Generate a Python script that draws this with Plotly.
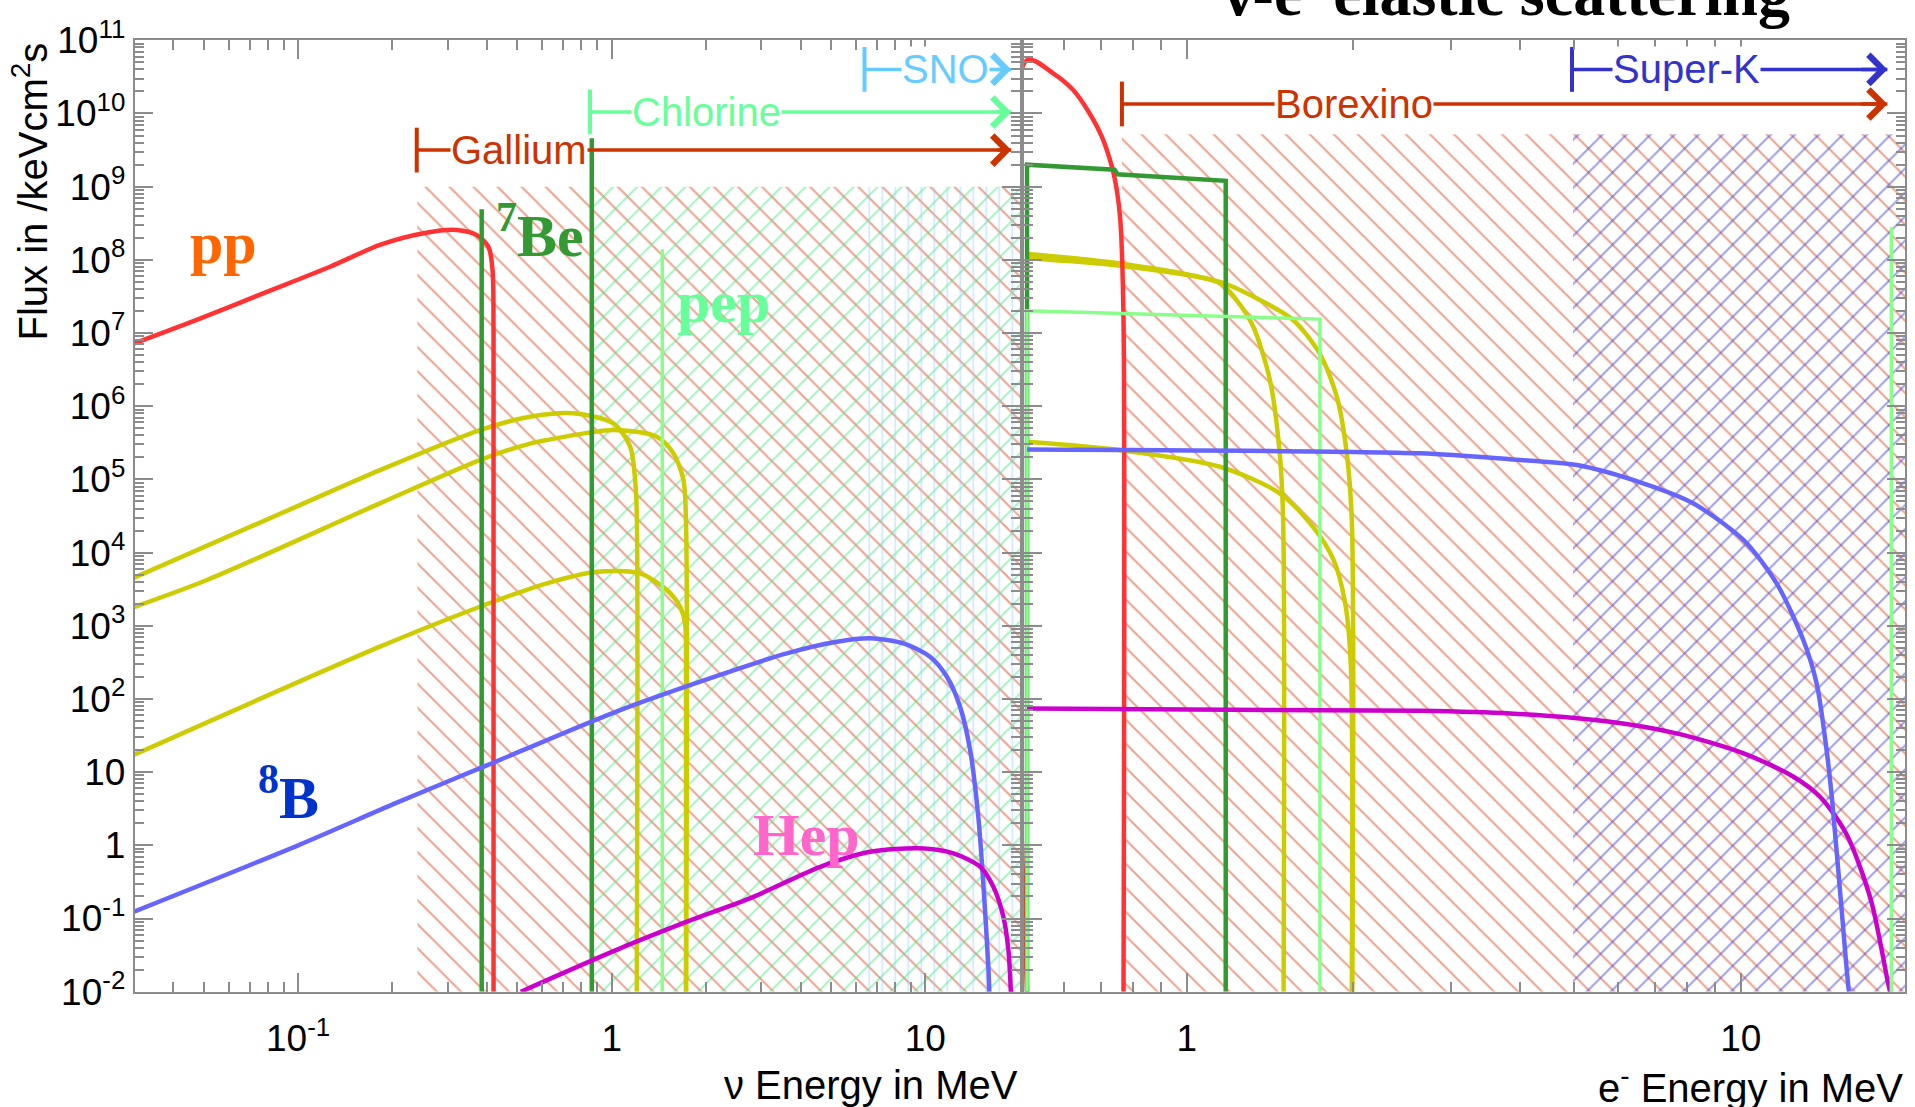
import numpy as np
import plotly.graph_objects as go

# ---------------- tick labels ----------------
y_tickvals = [1e-2, 1e-1, 1, 10, 1e2, 1e3, 1e4, 1e5, 1e6, 1e7, 1e8, 1e9, 1e10, 1e11]
y_ticktext = ["10<sup>-2</sup>", "10<sup>-1</sup>", "1", "10", "10<sup>2</sup>", "10<sup>3</sup>",
              "10<sup>4</sup>", "10<sup>5</sup>", "10<sup>6</sup>", "10<sup>7</sup>", "10<sup>8</sup>",
              "10<sup>9</sup>", "10<sup>10</sup>", "10<sup>11</sup>"]
x1_tickvals = [0.1, 1, 10]
x1_ticktext = ["10<sup>-1</sup>", "1", "10"]
x2_tickvals = [1, 10]
x2_ticktext = ["1", "10"]

# ---------------- left panel: neutrino spectra (E in MeV, flux in /keV cm^2 s) ----------------
pp_E = [0.030, 0.0475, 0.0774, 0.1265, 0.1824, 0.2512, 0.3206, 0.3715, 0.4046, 0.4169, 0.4200, 0.4200]
pp_F = [7.2e6, 1.51e7, 3.49e7, 8.05e7, 1.60e8, 2.31e8, 2.56e8, 2.18e8, 1.51e8, 7.3e7, 1.0e7, 1e-2]

be7_E = [0.385, 0.864]
be7_top = [4.9e8, 4.6e9]

pep_E = [1.45]
pep_top = [1.4e8]

n13_E = [0.030, 0.100, 0.1824, 0.380, 0.5495, 0.755, 1.012, 1.146, 1.1877, 1.2023, 1.2023]
n13_F = [4.54e3, 4.35e4, 1.34e5, 4.73e5, 7.19e5, 8.0e5, 5.83e5, 2.79e5, 9.8e4, 3.4e4, 1e-2]

o15_E = [0.030, 0.0512, 0.1824, 0.380, 0.5495, 0.621, 1.012, 1.393, 1.574, 1.694, 1.726, 1.726]
o15_F = [1.80e3, 4.22e3, 4.71e4, 1.84e5, 3.09e5, 3.45e5, 4.73e5, 3.83e5, 2.27e5, 9.8e4, 2.5e4, 1e-2]

f17_E = [0.030, 0.1824, 0.380, 0.621, 0.897, 1.230, 1.500, 1.652, 1.714, 1.726, 1.726]
f17_F = [17.3, 518, 1.82e3, 3.80e3, 5.47e3, 5.2e3, 3.08e3, 1.82e3, 1.07e3, 316, 1e-2]

b8_E = [0.030, 0.100, 0.2065, 0.3855, 1.064, 2.217, 3.614, 5.224, 6.668, 8.511, 10.35, 11.72,
        12.91, 13.90, 14.76, 15.31, 15.89, 16.0]
b8_F = [0.124, 1.0, 3.83, 11.6, 70.6, 214, 420, 605, 673, 575, 378, 201,
        78.3, 20.0, 2.45, 0.302, 0.0219, 0.01]

hep_E = [0.513, 1.064, 1.738, 2.831, 4.624, 6.668, 9.638, 12.30, 14.96, 16.48, 17.74, 18.41, 18.75]
hep_F = [0.01, 0.0391, 0.0904, 0.198, 0.509, 0.817, 0.910, 0.776, 0.509, 0.272, 0.106, 0.037, 0.0095]

# ---------------- right panel: nu-e elastic scattering recoil spectra ----------------
pp_es_E = [0.515, 0.515, 0.574, 0.624, 0.668, 0.703, 0.733, 0.748, 0.759, 0.769, 0.769]
pp_es_F = [1e-2, 5.37e10, 3.54e10, 2.09e10, 1.0e10, 4.79e9, 1.86e9, 8.9e8, 3.47e8, 1.51e7, 1e-2]

be7_es_E = [0.515, 0.515, 0.741, 0.750, 1.176, 1.176]
be7_es_F = [1e-2, 2.0e9, 1.70e9, 1.48e9, 1.20e9, 1e-2]

pep_es_E = [0.515, 0.515, 1.74, 1.74]
pep_es_F = [1e-2, 2.02e7, 1.55e7, 1e-2]

n13_es_E = [0.515, 0.759, 1.148, 1.230, 1.318, 1.413, 1.472, 1.493, 1.496]
n13_es_F = [1.2e8, 8.9e7, 4.79e7, 2.82e7, 1.23e7, 2.29e6, 2.27e5, 2.79e4, 1e-2]

o15_es_E = [0.515, 0.759, 1.148, 1.318, 1.556, 1.738, 1.866, 1.945, 1.986, 1.990]
o15_es_F = [1.05e8, 8.3e7, 5.0e7, 3.16e7, 1.51e7, 5.25e6, 1.35e6, 2.27e5, 2.79e4, 1e-2]

f17_es_E = [0.515, 0.759, 1.148, 1.472, 1.690, 1.841, 1.932, 1.977, 1.986]
f17_es_F = [3.27e5, 2.51e5, 1.49e5, 6.46e4, 2.24e4, 7.94e3, 2.04e3, 316, 1e-2]

b8_es_E = [0.515, 2.636, 3.834, 5.058, 6.668, 8.204, 10.12, 11.61, 12.97, 13.71, 14.29, 14.62,
           15.14, 15.67, 15.70]
b8_es_F = [2.57e5, 2.27e5, 1.88e5, 1.57e5, 8.83e4, 4.71e4, 1.48e4, 3.80e3, 638, 163, 20.0, 4.17,
           0.2, 0.0105, 0.01]

hep_es_E = [0.515, 2.636, 3.834, 5.808, 7.656, 10.12, 12.45, 13.90, 15.49, 17.18, 18.40, 18.60]
hep_es_F = [74.1, 69.0, 63.5, 48.9, 33.9, 18.1, 8.65, 4.61, 1.46, 0.179, 0.0145, 0.01]

edge_E = [18.7]
edge_top = [2.8e8]

# ---------------- detector thresholds ----------------
det_left_names = ["Gallium", "Chlorine", "SNO"]
det_left_thr = [0.239, 0.853, 6.4]
det_left_level = [3.16e9, 1.05e10, 4.0e10]
det_left_end = 18.8
hatch_left_start = [0.24, 0.87, 6.5]
hatch_left_top = 1e9

det_right_names = ["Borexino", "Super-K"]
det_right_thr = [0.764, 4.96]
det_right_level = [1.35e10, 4.0e10]
det_right_end = 18.4
hatch_right_start = [0.764, 4.98]
hatch_right_top = 5.2e9

# ---------------- styles ----------------
C_PP = "#ff3333"
C_BE = "#339933"
C_PEP = "#88ff88"
C_CNO = "#cccc00"
C_B8 = "#6666ff"
C_HEP = "#cc00cc"
C_GA = "#cc3300"
C_CL = "#66ff99"
C_SNO = "#66ccff"
C_SK = "#3333cc"
H_RED = "#d9461f"
H_GREEN = "#4fe684"
H_CYAN = "#8fd0ff"
H_BLUE = "#3f3fd8"
GRAY = "#8c8c8c"
LW = 4.5

fig = go.Figure()


def add_line(x, y, color, width, ax, smooth=True):
    xa, ya = ("x", "y") if ax == 1 else ("x2", "y2")
    line = dict(color=color, width=width)
    if smooth:
        line.update(shape="spline", smoothing=0.8)
    fig.add_trace(go.Scatter(x=x, y=y, mode="lines", line=line,
                             xaxis=xa, yaxis=ya, hoverinfo="skip", showlegend=False))


def add_hatch(x0, x1, top, shape, color, size, sol, ax):
    xa, ya = ("x", "y") if ax == 1 else ("x2", "y2")
    fig.add_trace(go.Scatter(x=[x0, x1, x1, x0, x0], y=[1e-2, 1e-2, top, top, 1e-2],
                             mode="none", fill="toself", fillcolor="rgba(0,0,0,0)",
                             fillpattern=dict(shape=shape, fgcolor=color, bgcolor="rgba(0,0,0,0)",
                                              size=size, solidity=sol),
                             xaxis=xa, yaxis=ya, hoverinfo="skip", showlegend=False))


# hatched sensitivity regions
add_hatch(hatch_left_start[0], 21, hatch_left_top, "\\", H_RED, 17, 0.12, 1)
add_hatch(hatch_left_start[1], 21, hatch_left_top, "/", H_GREEN, 17, 0.12, 1)
add_hatch(hatch_left_start[2], 21, hatch_left_top, "|", H_CYAN, 13, 0.12, 1)
add_hatch(hatch_right_start[0], 21, hatch_right_top, "\\", H_RED, 17, 0.12, 2)
add_hatch(hatch_right_start[1], 21, hatch_right_top, "/", H_BLUE, 17, 0.12, 2)

# left panel spectra
add_line(n13_E, n13_F, C_CNO, LW, 1)
add_line(o15_E, o15_F, C_CNO, LW, 1)
add_line(f17_E, f17_F, C_CNO, LW, 1)
add_line(pp_E, pp_F, C_PP, LW, 1)
for e, t in zip(be7_E, be7_top):
    add_line([e, e], [1e-2, t], C_BE, LW, 1, smooth=False)
for e, t in zip(pep_E, pep_top):
    add_line([e, e], [1e-2, t], C_PEP, 3.5, 1, smooth=False)
add_line(b8_E, b8_F, C_B8, LW, 1)
add_line(hep_E, hep_F, C_HEP, LW, 1)

# right panel spectra
add_line(n13_es_E, n13_es_F, C_CNO, LW, 2)
add_line(o15_es_E, o15_es_F, C_CNO, LW, 2)
add_line(f17_es_E, f17_es_F, C_CNO, LW, 2)
add_line(pp_es_E, pp_es_F, C_PP, LW, 2)
add_line(be7_es_E, be7_es_F, C_BE, LW, 2, smooth=False)
add_line(pep_es_E, pep_es_F, C_PEP, 3.5, 2, smooth=False)
add_line(hep_es_E, hep_es_F, C_HEP, LW, 2)
add_line(b8_es_E, b8_es_F, C_B8, LW, 2)
for e, t in zip(edge_E, edge_top):
    add_line([e, e], [1e-2, t], C_PEP, 3.5, 2, smooth=False)

annotations = []

# detector ranges
det_label_left_E = [0.3053, 1.153, 8.365]
det_label_right_E = [1.437, 5.858]
det_colors_left = [C_GA, C_CL, C_SNO]
det_colors_right = [C_GA, C_SK]


def add_detector(name, thr, lvl, end, lab_e, color, ax):
    xa, ya = ("x", "y") if ax == 1 else ("x2", "y2")
    fig.add_trace(go.Scatter(x=[thr, end], y=[lvl, lvl], mode="lines",
                             line=dict(color=color, width=3.5), xaxis=xa, yaxis=ya,
                             hoverinfo="skip", showlegend=False))
    fig.add_trace(go.Scatter(x=[thr], y=[lvl], mode="markers",
                             marker=dict(symbol="line-ns", size=32, line=dict(width=4, color=color)),
                             xaxis=xa, yaxis=ya, hoverinfo="skip", showlegend=False, cliponaxis=False))
    annotations.append(dict(xref=xa, yref=ya, x=np.log10(lab_e), y=np.log10(lvl), text=name,
                            showarrow=False, xanchor="left", yanchor="middle", bgcolor="white",
                            borderpad=0,
                            font=dict(family="Liberation Sans", size=40, color=color)))
    annotations.append(dict(xref=xa, yref=ya, axref=xa, ayref=ya,
                            x=np.log10(end), y=np.log10(lvl),
                            ax=np.log10(end) - 0.05, ay=np.log10(lvl), text="",
                            showarrow=True, arrowhead=4, arrowsize=1.6, arrowwidth=3.5,
                            arrowcolor=color))


for n, t, l, le, c in zip(det_left_names, det_left_thr, det_left_level, det_label_left_E, det_colors_left):
    add_detector(n, t, l, det_left_end, le, c, 1)
for n, t, l, le, c in zip(det_right_names, det_right_thr, det_right_level, det_label_right_E, det_colors_right):
    add_detector(n, t, l, det_right_end, le, c, 2)

# spectrum labels
lab_font = "Liberation Serif"
spec_labels = [
    ("pp", 0.058, 10 ** 8.23, "#ff6600"),
    ("<sup>7</sup>Be", 0.589, 10 ** 8.39, "#339933"),
    ("pep", 2.28, 10 ** 7.42, "#66ff99"),
    ("<sup>8</sup>B", 0.0931, 10 ** 0.71, "#0033cc"),
    ("Hep", 4.17, 10 ** 0.14, "#ff66cc"),
]
for txt, ex, fy, col in spec_labels:
    annotations.append(dict(xref="x", yref="y", x=np.log10(ex), y=np.log10(fy), text=txt,
                            showarrow=False, xanchor="center", yanchor="middle",
                            font=dict(family=lab_font, size=60, color=col, weight="bold")))

W, H = 1915, 1107
# title (partly cut at top edge, as in the original)
annotations.append(dict(xref="paper", yref="paper", x=1221 / W, y=1 - 31 / H,
                        text="ν-e<sup>-</sup> elastic scattering", showarrow=False,
                        xanchor="left", yanchor="bottom",
                        font=dict(family="Liberation Serif", size=64, color="black", weight="bold")))
# y axis title
annotations.append(dict(xref="paper", yref="paper", x=30.5 / W, y=1 - 192 / H,
                        text="Flux in /keVcm<sup>2</sup>s", showarrow=False, textangle=-90,
                        xanchor="center", yanchor="middle",
                        font=dict(family="Liberation Sans", size=40, color="black")))
# x axis titles
annotations.append(dict(xref="paper", yref="paper", x=1020 / W, y=1 - 1084.5 / H,
                        text="ν Energy in MeV", showarrow=False, xanchor="right", yanchor="middle",
                        font=dict(family="Liberation Sans", size=40, color="black")))
annotations.append(dict(xref="paper", yref="paper", x=1905 / W, y=1 - 1084.5 / H,
                        text="e<sup>-</sup> Energy in MeV", showarrow=False, xanchor="right",
                        yanchor="middle",
                        font=dict(family="Liberation Sans", size=40, color="black")))


def minor_vals(d0, d1):
    return [m * 10.0 ** d for d in range(d0, d1 + 1) for m in range(2, 10)]


tickfont = dict(family="Liberation Sans", size=37, color="black")
common = dict(type="log", showline=True, linecolor=GRAY, linewidth=2, mirror="allticks",
              ticks="inside", tickcolor=GRAY, tickwidth=1.5, showgrid=False, zeroline=False,
              tickfont=tickfont, automargin=False)

y_dom = [1 - 991.7 / H, 1 - 40.3 / H]
fig.update_layout(
    width=W, height=H, margin=dict(l=0, r=0, t=0, b=0, autoexpand=False),
    paper_bgcolor="white", plot_bgcolor="white", showlegend=False,
    xaxis=dict(domain=[134.7 / W, 1020 / W], range=[-1.521, 1.302], anchor="y",
               tickmode="array", tickvals=x1_tickvals, ticktext=x1_ticktext, ticklen=19,
               ticklabelstandoff=13,
               minor=dict(ticks="inside", ticklen=10, tickcolor=GRAY, tickwidth=1.5,
                          tickmode="array", tickvals=minor_vals(-2, 1)),
               **common),
    xaxis2=dict(domain=[1023.5 / W, 1905.2 / W], range=[-0.2946, 1.2969], anchor="y2",
                tickmode="array", tickvals=x2_tickvals, ticktext=x2_ticktext, ticklen=19,
                ticklabelstandoff=13,
                minor=dict(ticks="inside", ticklen=10, tickcolor=GRAY, tickwidth=1.5,
                           tickmode="array", tickvals=minor_vals(-1, 1)),
                **common),
    yaxis=dict(domain=y_dom, range=[-2, 11], anchor="x", tickmode="array",
               tickvals=y_tickvals, ticktext=y_ticktext, ticklen=18,
               minor=dict(ticks="inside", ticklen=9, tickcolor=GRAY, tickwidth=1.5,
                          tickmode="array", tickvals=minor_vals(-2, 10)),
               **common),
    yaxis2=dict(domain=y_dom, range=[-2, 11], anchor="x2", tickmode="array",
                tickvals=y_tickvals, ticktext=y_ticktext, ticklen=18, showticklabels=False,
                minor=dict(ticks="inside", ticklen=9, tickcolor=GRAY, tickwidth=1.5,
                           tickmode="array", tickvals=minor_vals(-2, 10)),
                **common),
    annotations=annotations,
)

fig.write_html("out.html", config={"displayModeBar": False},
               post_script="document.body.style.margin='0';")
